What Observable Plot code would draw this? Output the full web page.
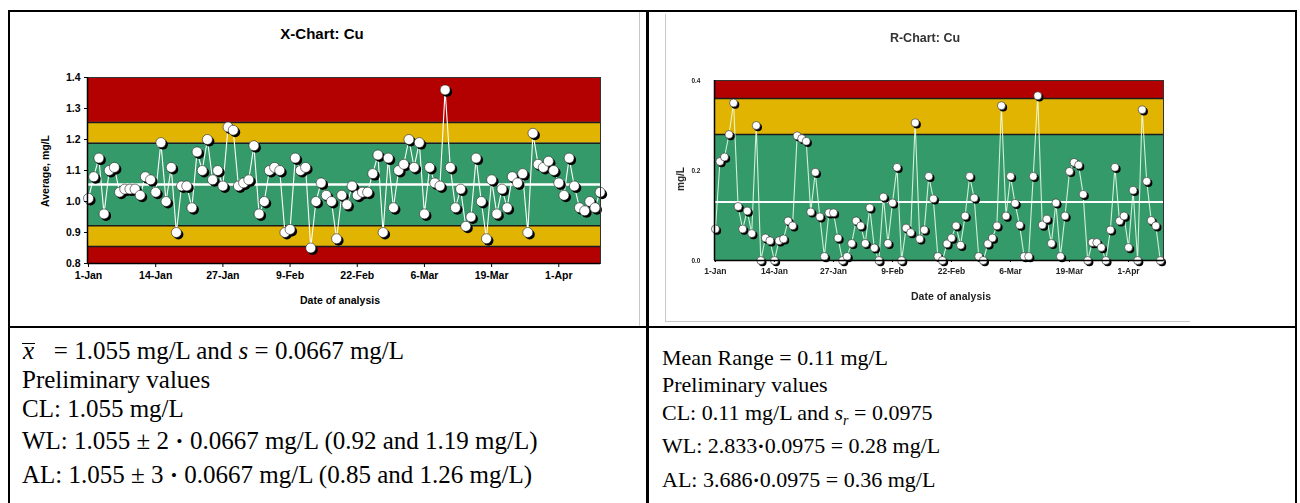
<!DOCTYPE html>
<html><head><meta charset="utf-8">
<script src="https://cdn.jsdelivr.net/npm/d3@7"></script>
<script src="https://cdn.jsdelivr.net/npm/@observablehq/plot@0.6"></script>
<style>
html,body{margin:0;padding:0;background:#fff;}
body{position:relative;width:1300px;height:503px;overflow:hidden;}
.bl{position:absolute;background:#000;}
.gl{position:absolute;background:#c8c8c8;}
.lab{position:absolute;font-family:Arial,"Liberation Sans",sans-serif;font-weight:bold;white-space:nowrap;color:#000;line-height:1;transform:translate(-50%,-50%);}
.rot{transform:translate(-50%,-50%) rotate(-90deg);}
.tx{position:absolute;font-family:"Liberation Serif","Times New Roman",serif;font-size:22px;line-height:22px;white-space:nowrap;color:#000;}
.txl{font-size:25px;line-height:22px;}
.chart{position:absolute;}
.xb{font-style:italic;font-size:25px;display:inline-block;line-height:13px;border-top:1.6px solid #000;padding:0 1px;}
</style></head><body>
<div class="bl" style="left:8px;top:10px;width:1289px;height:2px"></div>
<div class="bl" style="left:8px;top:10px;width:2px;height:493px"></div>
<div class="bl" style="left:1295px;top:10px;width:2px;height:493px"></div>
<div class="bl" style="left:646px;top:10px;width:3px;height:493px"></div>
<div class="bl" style="left:8px;top:326px;width:1289px;height:2px"></div>
<div class="gl" style="left:639px;top:12px;width:1px;height:314px"></div>
<div class="gl" style="left:665px;top:14px;width:1px;height:308px"></div>
<div class="gl" style="left:665px;top:321px;width:525px;height:1px"></div>

<div id="xchart" class="chart" style="left:10px;top:12px"></div>
<div id="rchart" class="chart" style="left:667px;top:12px;filter:blur(0.4px)"></div>

<div class="lab" style="left:322px;top:33px;font-size:15px">X-Chart: Cu</div>
<div class="lab rot" style="left:45px;top:171px;font-size:10.5px">Average, mg/L</div>
<div class="lab" style="left:340px;top:300px;font-size:10.5px">Date of analysis</div>
<div class="lab" style="left:925px;top:38px;font-size:12.5px;color:#333;filter:blur(0.4px)">R-Chart: Cu</div>
<div class="lab rot" style="left:681px;top:179px;font-size:10px;color:#222;filter:blur(0.4px)">mg/L</div>
<div class="lab" style="left:951px;top:296px;font-size:10.5px;color:#222;filter:blur(0.4px)">Date of analysis</div>

<div class="tx txl" style="left:22px;top:340px"><span class="xb">x</span>&nbsp;&nbsp; = 1.055 mg/L and <i>s</i> = 0.0667 mg/L</div>
<div class="tx txl" style="left:22px;top:369px">Preliminary values</div>
<div class="tx txl" style="left:22px;top:398px">CL: 1.055 mg/L</div>
<div class="tx txl" style="left:22px;top:430px">WL: 1.055 ± 2 <b>·</b> 0.0667 mg/L (0.92 and 1.19 mg/L)</div>
<div class="tx txl" style="left:22px;top:464px">AL: 1.055 ± 3 <b>·</b> 0.0667 mg/L (0.85 and 1.26 mg/L)</div>

<div class="tx" style="left:662px;top:347px">Mean Range = 0.11 mg/L</div>
<div class="tx" style="left:662px;top:374px">Preliminary values</div>
<div class="tx" style="left:662px;top:402px">CL: 0.11 mg/L and <i>s<sub style="font-size:14px">r</sub></i> = 0.0975</div>
<div class="tx" style="left:662px;top:435px">WL: 2.833<b>·</b>0.0975 = 0.28 mg/L</div>
<div class="tx" style="left:662px;top:469px">AL: 3.686<b>·</b>0.0975 = 0.36 mg/L</div>

<script>
// ---------- data ----------
const startDate = "2008-01-01";
const tickDates = ["2008-01-01","2008-01-14","2008-01-27","2008-02-09","2008-02-22","2008-03-06","2008-03-19","2008-04-01"];

// daily averages (mg/L), X-chart
const xValues = [
  1.01,1.08,1.14,0.96,1.10,1.11,1.03,1.04,1.04,1.04,
  1.02,1.08,1.07,1.03,1.19,1.00,1.11,0.90,1.05,1.05,
  0.98,1.16,1.10,1.20,1.07,1.10,1.05,1.24,1.23,1.05,
  1.06,1.07,1.18,0.96,1.00,1.10,1.11,1.10,0.90,0.91,
  1.14,1.10,1.11,0.85,1.00,1.06,1.02,1.00,0.88,1.02,
  0.99,1.05,1.02,1.03,1.03,1.09,1.15,0.90,1.14,0.98,
  1.10,1.12,1.20,1.11,1.19,0.96,1.11,1.06,1.05,1.36,
  1.11,0.98,1.04,0.92,0.95,1.14,1.00,0.88,1.07,0.96,
  1.04,0.98,1.08,1.06,1.09,0.90,1.22,1.12,1.11,1.13,
  1.10,1.06,1.02,1.14,1.05,0.98,0.97,1.00,0.98,1.03
];
const xYTicks = [0.8, 0.9, 1.0, 1.1, 1.2, 1.3, 1.4];
const xYDomain = [0.8, 1.4];
const xCenter = 1.055;
const xWarn = [0.922, 1.188];
const xAction = [0.855, 1.255];

// daily ranges (mg/L), R-chart
const rValues = [
  0.07,0.22,0.23,0.28,0.35,0.12,0.07,0.11,0.06,0.30,
  0.00,0.05,0.044,0.00,0.044,0.048,0.088,0.077,0.277,0.271,
  0.265,0.108,0.196,0.097,0.009,0.106,0.106,0.05,0.00,0.009,
  0.038,0.088,0.077,0.038,0.117,0.028,0.00,0.141,0.038,0.128,
  0.207,0.00,0.072,0.062,0.306,0.048,0.068,0.187,0.137,0.009,
  0.00,0.037,0.05,0.077,0.034,0.099,0.187,0.139,0.009,0.00,
  0.037,0.05,0.077,0.344,0.099,0.187,0.127,0.079,0.009,0.009,
  0.187,0.366,0.079,0.092,0.038,0.128,0.009,0.099,0.198,0.218,
  0.212,0.147,0.00,0.04,0.04,0.029,0.00,0.068,0.207,0.088,
  0.099,0.029,0.156,0.00,0.335,0.176,0.089,0.077,0.00
];
const rYTicks = [0.0, 0.2, 0.4];
const rYDomain = [0, 0.4];
const rCenter = 0.13;
const rWarn = 0.28;
const rAction = 0.36;

// ---------- styling ----------
const RED = "#b30000", YEL = "#e0b400", GRN = "#359a69";
const parse = d3.utcParse("%Y-%m-%d");
const t0 = parse(startDate);
const dayAt = d => new Date(t0.getTime() + d * 864e5);
const fmtDate = d3.utcFormat("%-d-%b");

function controlChart(o) {
  const data = o.values.map((v, i) => ({date: dayAt(i), v}));
  const x0 = dayAt(o.xDom[0]), x1 = dayAt(o.xDom[1]);
  const bandMarks = o.bands.map(b => Plot.rect([b], {
    x1: () => x0, x2: () => x1, y1: () => b[0], y2: () => b[1], fill: b[2]
  }));
  return Plot.plot({
    width: o.width, height: o.height,
    marginLeft: o.ml, marginRight: o.mr, marginTop: o.mt, marginBottom: o.mb,
    x: {type: "utc", domain: [x0, x1]},
    y: {domain: o.yDomain},
    style: {fontFamily: "Arial, 'Liberation Sans', sans-serif", background: "transparent", color: "#000", overflow: "visible"},
    marks: [
      ...bandMarks,
      Plot.ruleY(o.edges, {stroke: "#1c1c1c", strokeWidth: 1.6}),
      Plot.ruleY([o.center], {stroke: "#fff", strokeWidth: o.centerW}),
      Plot.line(data, {x: "date", y: "v", stroke: o.lineColor, strokeWidth: 1.1}),
      Plot.dot(data, {x: "date", y: "v", r: o.r, fill: "#000", dx: o.sh, dy: o.sh}),
      Plot.dot(data, {x: "date", y: "v", r: o.r, fill: "#fff", stroke: "#222", strokeWidth: 0.6}),
      Plot.frame({stroke: "#333", strokeWidth: 1}),
      Plot.ruleX([x0], {stroke: "#000", strokeWidth: 1.5}),
      Plot.ruleY([o.yDomain[0]], {stroke: "#000", strokeWidth: 1.5}),
      Plot.axisY(o.yTicks, {tickFormat: d => d.toFixed(1), tickSize: o.ytick, tickPadding: o.ypad,
        fontSize: o.fs, fontWeight: "bold", label: null, fill: o.tc}),
      Plot.axisX(tickDates.map(parse), {tickFormat: fmtDate, tickSize: o.xtick, tickPadding: o.xpad,
        fontSize: o.xfs, fontWeight: "bold", label: null, fill: o.tc})
    ]
  });
}

document.getElementById("xchart").append(controlChart({
  values: xValues, yDomain: xYDomain, yTicks: xYTicks, center: xCenter,
  bands: [[xAction[1], xYDomain[1], RED], [xWarn[1], xAction[1], YEL], [xWarn[0], xWarn[1], GRN],
          [xAction[0], xWarn[0], YEL], [xYDomain[0], xAction[0], RED]],
  edges: [xAction[0], xWarn[0], xWarn[1], xAction[1]],
  width: 628, height: 312, ml: 77, mr: 38, mt: 65, mb: 61,
  xDom: [-0.2, 99.07], r: 5, sh: 2, centerW: 2.5, lineColor: "#fff",
  fs: 10.5, xfs: 10.5, ytick: 3, ypad: 4, xtick: 4, xpad: 4, tc: "#000"
}));

document.getElementById("rchart").append(controlChart({
  values: rValues, yDomain: rYDomain, yTicks: rYTicks, center: rCenter,
  bands: [[rAction, rYDomain[1], RED], [rWarn, rAction, YEL], [rYDomain[0], rWarn, GRN]],
  edges: [rWarn, rAction],
  width: 620, height: 310, ml: 47, mr: 124, mt: 68, mb: 62,
  xDom: [-0.2, 98.7], r: 4, sh: 1.7, centerW: 2, lineColor: "rgba(235,255,240,0.85)",
  fs: 6.5, xfs: 8.5, ytick: 0, ypad: 14, xtick: 2, xpad: 5, tc: "#222"
}));
</script>
</body></html>
